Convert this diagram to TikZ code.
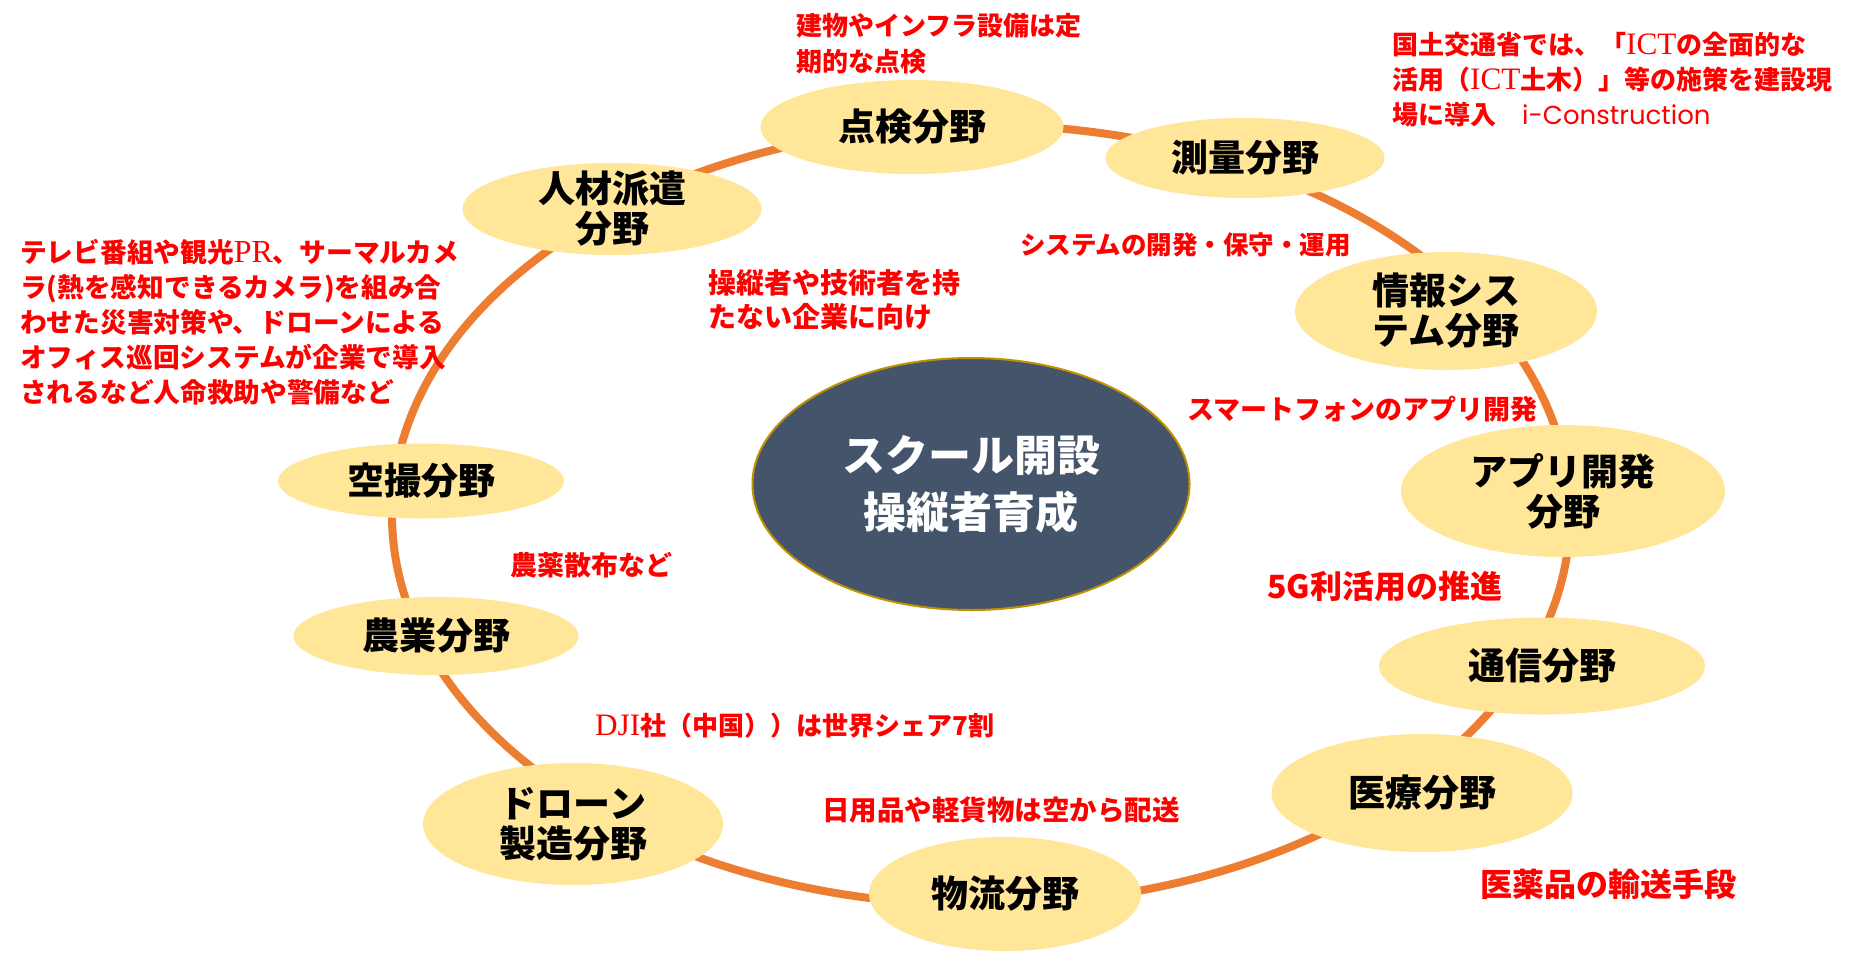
\documentclass[tikz,border=0pt]{standalone}
\usepackage{fontspec}
\usetikzlibrary{shapes.geometric}
\newfontfamily\jp{Noto Sans CJK JP}
\newfontfamily\lserif[Scale=1.2]{Liberation Serif}
\newfontfamily\geo{Poppins}
\newcommand\nfs[2]{\fontsize{#1}{#2}\selectfont}
\definecolor{ringorange}{HTML}{ED7D31}
\definecolor{fieldfill}{HTML}{FFE699}
\definecolor{hubfill}{HTML}{44546A}
\definecolor{hubline}{HTML}{BF9000}
\definecolor{notered}{HTML}{FF0000}
\tikzset{
  ringshape/.style={ellipse, draw=ringorange, line width=8pt, inner sep=0pt},
  field/.style={ellipse, fill=fieldfill, inner sep=0pt},
  fieldtext/.style={font=\jp\bfseries\nfs{37}{40}, align=center, inner sep=0pt, text=black},
  hub/.style={ellipse, fill=hubfill, draw=hubline, line width=2pt, inner sep=0pt},
  hubtext/.style={font=\jp\bfseries\nfs{43}{57}, align=center, text=white, inner sep=0pt},
  note/.style={font=\jp\bfseries\nfs{26}{35}, align=left, text=notered, inner sep=0pt, anchor=west},
}
\begin{document}
\begin{tikzpicture}[x=1pt,y=-1pt]
\fill[white] (0,0) rectangle (1849,956);
\useasboundingbox (0,0) rectangle (1849,956);
% ring
\node[ringshape, minimum width=1178pt, minimum height=780pt] (ring) at (981,515) {};
% hub
\node[hub, minimum width=437pt, minimum height=252pt] (hub) at (971,484) {};
\node[hubtext] (hubt) at (hub) {スクール開設\\操縦者育成};
% fields
\node[field, minimum width=303pt, minimum height=94pt] (tenken) at (912,127) {};
\node[fieldtext] (tenkent) at (tenken) {点検分野};
\node[field, minimum width=279pt, minimum height=80pt] (sokuryo) at (1245,158) {};
\node[fieldtext] (sokuryot) at (sokuryo) {測量分野};
\node[field, minimum width=302pt, minimum height=118pt] (joho) at (1446,311) {};
\node[fieldtext] (johot) at (joho) {情報シス\\テム分野};
\node[field, minimum width=324pt, minimum height=132pt] (apuri) at (1563,491) {};
\node[fieldtext] (apurit) at (apuri) {アプリ開発\\分野};
\node[field, minimum width=326pt, minimum height=97pt] (tsushin) at (1542,666) {};
\node[fieldtext] (tsushint) at (tsushin) {通信分野};
\node[field, minimum width=301pt, minimum height=118pt] (iryo) at (1422,793) {};
\node[fieldtext] (iryot) at (iryo) {医療分野};
\node[field, minimum width=272pt, minimum height=114pt] (butsuryu) at (1005,894) {};
\node[fieldtext] (butsuryut) at (butsuryu) {物流分野};
\node[field, minimum width=300pt, minimum height=122pt] (drone) at (573,824) {};
\node[fieldtext] (dronet) at (drone) {ドローン\\製造分野};
\node[field, minimum width=285pt, minimum height=78pt] (nogyo) at (436,636) {};
\node[fieldtext] (nogyot) at (nogyo) {農業分野};
\node[field, minimum width=286pt, minimum height=75pt] (kusatsu) at (421,481) {};
\node[fieldtext] (kusatsut) at (kusatsu) {空撮分野};
\node[field, minimum width=299pt, minimum height=92pt] (jinzai) at (612,209) {};
\node[fieldtext] (jinzait) at (jinzai) {人材派遣\\分野};
% notes
\node[note, font=\jp\bfseries\nfs{26}{36}] (n1) at (796,44) {建物やインフラ設備は定\\期的な点検};
\node[note, font=\jp\bfseries\nfs{26}{35}] (n2) at (1392,80) {国土交通省では、「{\lserif\mdseries ICT}の全面的な\\活用（{\lserif\mdseries ICT}土木）」等の施策を建設現\\場に導入　{\geo\mdseries i-Construction}};
\node[note, font=\jp\bfseries\nfs{25.5}{34}] (n3) at (1020,245) {システムの開発・保守・運用};
\node[note, font=\jp\bfseries\nfs{28}{34}] (n4) at (708,300) {操縦者や技術者を持\\たない企業に向け};
\node[note, font=\jp\bfseries\nfs{26.7}{35}] (n5) at (20,322) {テレビ番組や観光{\lserif\mdseries PR}、サーマルカメ\\ラ(熱を感知できるカメラ)を組み合\\わせた災害対策や、ドローンによる\\オフィス巡回システムが企業で導入\\されるなど人命救助や警備など};
\node[note, font=\jp\bfseries\nfs{27}{34}] (n6) at (1187,409) {スマートフォンのアプリ開発};
\node[note, font=\jp\bfseries\nfs{32}{38}] (n7) at (1267,586) {5G利活用の推進};
\node[note, font=\jp\bfseries\nfs{27}{34}] (n8) at (510,565) {農薬散布など};
\node[note, font=\jp\bfseries\nfs{26}{34}] (n9) at (595,726) {{\lserif\mdseries DJI}社（中国））は世界シェア7割};
\node[note, font=\jp\bfseries\nfs{27.5}{34}] (n10) at (822,810) {日用品や軽貨物は空から配送};
\node[note, font=\jp\bfseries\nfs{32}{38}] (n11) at (1480,884) {医薬品の輸送手段};
\end{tikzpicture}
\end{document}
